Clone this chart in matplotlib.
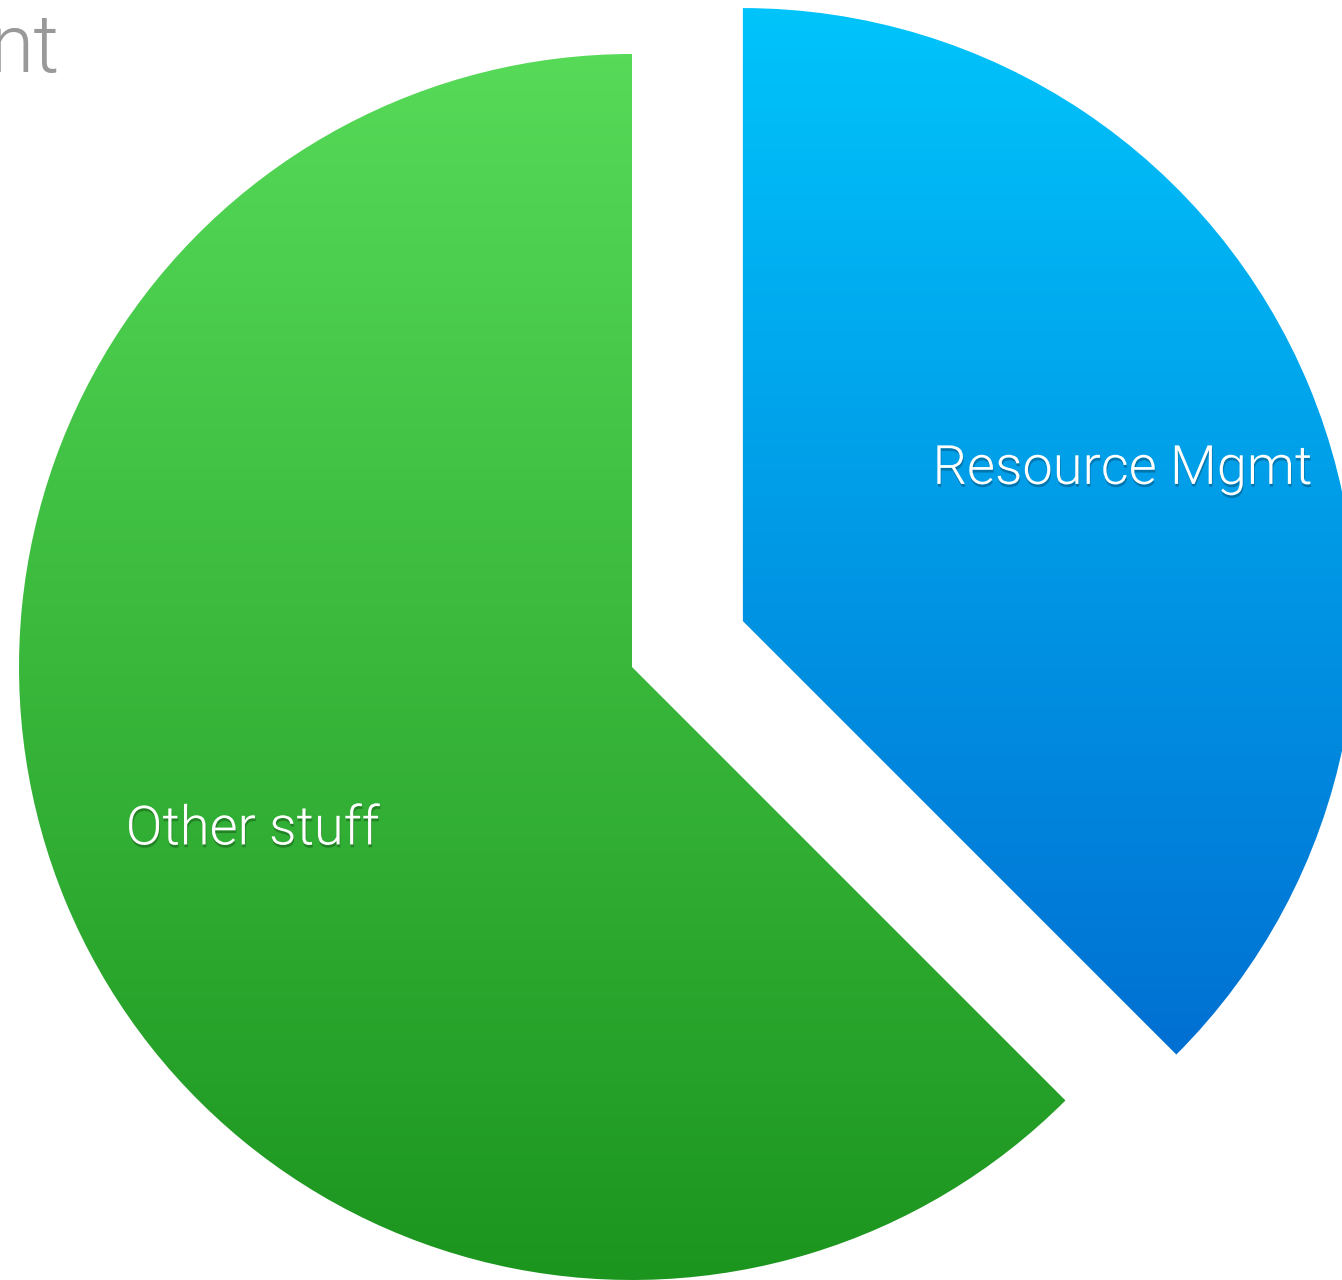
import numpy as np
import matplotlib
matplotlib.use("Agg")
import matplotlib.pyplot as plt
import matplotlib.patheffects as pe
from matplotlib.colors import LinearSegmentedColormap

# data
labels = ["Resource Mgmt", "Other stuff"]
shares = [37.5, 62.5]
explode_px = [120, 0]

# gradient colours (top -> bottom)
grad_top = ["#00c4fb", "#56da58"]
grad_bot = ["#0070d2", "#1c951f"]

FONT = ["Roboto", "DejaVu Sans"]

W, H = 1342, 1280
fig = plt.figure(figsize=(W / 100, H / 100), dpi=100)
ax = fig.add_axes([0, 0, 1, 1])

R = 613
cx, cy = 632, H - 667

wedges, texts = ax.pie(
    shares, labels=labels, explode=explode_px, center=(cx, cy), radius=R,
    startangle=90, counterclock=False, labeldistance=0.67,
    textprops=dict(color="white", fontsize=39, family=FONT, fontweight=300),
)

# gradient fill clipped to each wedge
grad = np.linspace(0, 1, 256).reshape(-1, 1)
for w, c0, c1 in zip(wedges, grad_top, grad_bot):
    w.set_facecolor("none")
    w.set_edgecolor("none")
    x0, y0 = w.center
    cmap = LinearSegmentedColormap.from_list("g", [c1, c0])
    bb = w.get_path().get_extents()
    im = ax.imshow(grad, cmap=cmap, aspect="auto", origin="lower",
                   extent=[x0 - R, x0 + R, bb.y0, bb.y1], zorder=1)
    im.set_clip_path(w)

shadow = [pe.withSimplePatchShadow(offset=(0.5, -2), shadow_rgbFace="black", alpha=0.25)]
for t in texts:
    t.set_ha("center")
    t.set_va("center_baseline")
    t.set_zorder(5)
    t.set_path_effects(shadow)

# clipped heading at top-left
ax.text(60, H - 72, "nt", color="#999999", fontsize=58, ha="right", va="baseline",
        family=FONT, fontweight=300)

ax.set_xlim(0, W)
ax.set_ylim(0, H)
ax.axis("off")

fig.savefig("out.png", dpi=100, facecolor="white")
